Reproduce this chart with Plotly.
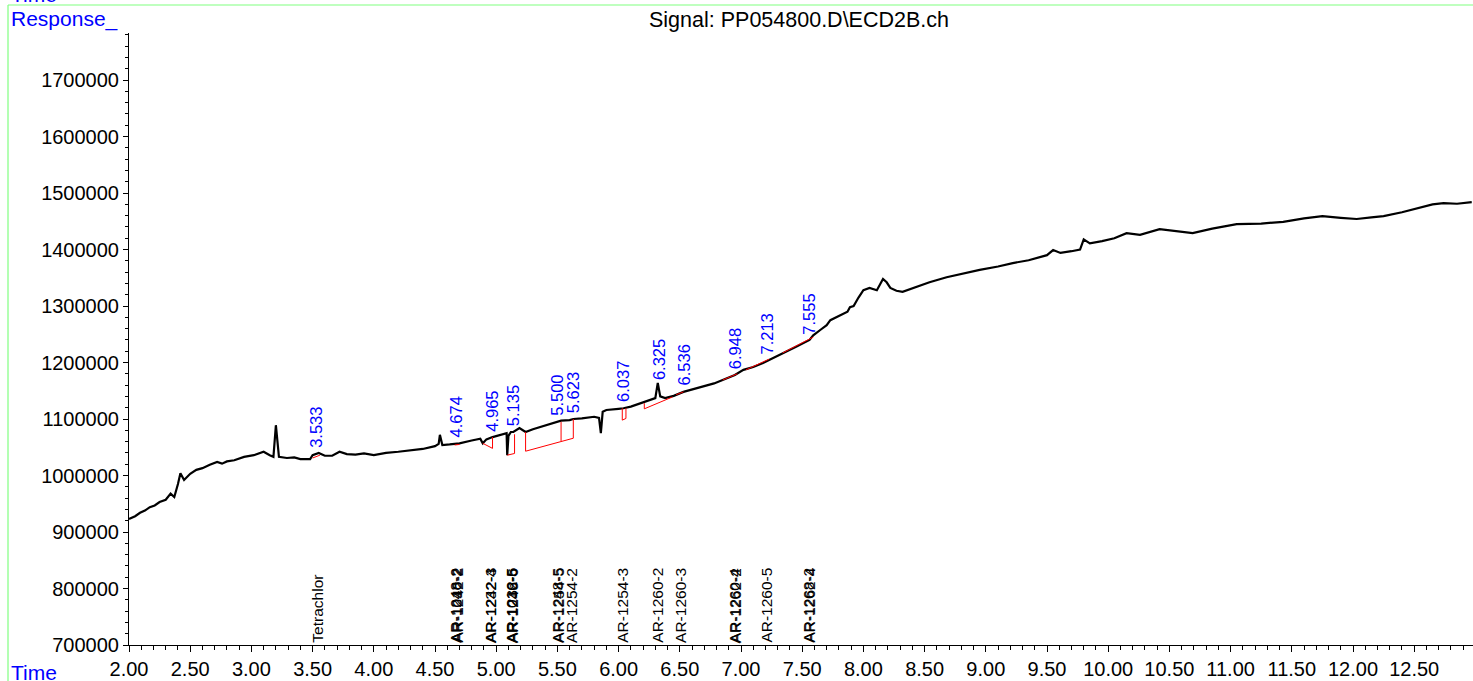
import numpy as np
import plotly.graph_objects as go

# ---------------- data ----------------
time_min = [2.00, 2.05, 2.09, 2.13, 2.17, 2.21, 2.25, 2.30, 2.34, 2.37, 2.40, 2.42, 2.45,
            2.50, 2.55, 2.60, 2.66, 2.72, 2.76, 2.80, 2.86, 2.94, 3.02, 3.10, 3.15, 3.18,
            3.20, 3.225, 3.29, 3.35, 3.40, 3.48, 3.50, 3.55, 3.60, 3.66, 3.72, 3.78, 3.85,
            3.92, 4.00, 4.10, 4.20, 4.30, 4.40, 4.50, 4.53, 4.54, 4.56, 4.62, 4.70, 4.80,
            4.87, 4.89, 4.92, 4.97, 5.03, 5.07, 5.085, 5.09, 5.10, 5.12, 5.14, 5.19, 5.24,
            5.30, 5.40, 5.50, 5.53, 5.60, 5.63, 5.70, 5.80, 5.84, 5.855, 5.87, 5.90, 6.00,
            6.04, 6.10, 6.20, 6.28, 6.30, 6.32, 6.34, 6.38, 6.45, 6.53, 6.60, 6.69, 6.78,
            6.85, 6.95, 7.02, 7.10, 7.18, 7.26, 7.34, 7.45, 7.56, 7.59, 7.65, 7.70, 7.73,
            7.80, 7.87, 7.89, 7.92, 7.96, 8.00, 8.05, 8.11, 8.16, 8.19, 8.22, 8.27, 8.32,
            8.41, 8.54, 8.68, 8.80, 8.95, 9.10, 9.22, 9.35, 9.44, 9.50, 9.55, 9.61, 9.70,
            9.77, 9.80, 9.85, 9.95, 10.05, 10.15, 10.26, 10.42, 10.55, 10.69, 10.85, 11.05,
            11.25, 11.43, 11.60, 11.75, 11.90, 12.03, 12.15, 12.25, 12.40, 12.52, 12.65,
            12.74, 12.85, 12.97]
response = [923000, 928000, 934000, 938000, 944000, 947000, 953000, 957000, 968000, 962000,
            985000, 1004000, 992000, 1003000, 1010000, 1013000, 1019000, 1024000, 1021000,
            1025000, 1027000, 1033000, 1036000, 1042000, 1036000, 1033000,
            1089000, 1033000, 1031000, 1032000, 1029000, 1029000, 1036000, 1040000, 1035000,
            1035000, 1042000, 1038000, 1037000,
            1039000, 1036000, 1040000, 1042000, 1044000, 1047000, 1052000, 1056000, 1072000,
            1054000, 1055000, 1057000, 1062000,
            1065000, 1057000, 1064000, 1068000, 1071000, 1074000, 1075000, 1036000, 1070000,
            1077000, 1077000, 1084000, 1077000,
            1082000, 1088000, 1095000, 1097000, 1098000, 1100000, 1101000, 1104000, 1102000,
            1075000, 1113000, 1116000, 1118000,
            1119000, 1122000, 1130000, 1135000, 1137000, 1164000, 1140000, 1137000, 1141000,
            1148000, 1152000, 1157000, 1163000,
            1169000, 1178000, 1187000, 1192000, 1199000, 1208000, 1217000, 1228000, 1240000,
            1248000, 1258000, 1266000, 1275000,
            1283000, 1290000, 1298000, 1300000, 1315000, 1328000, 1332000, 1328000, 1348000,
            1342000, 1332000, 1327000, 1325000,
            1332000, 1342000, 1351000, 1357000, 1364000, 1370000, 1376000, 1381000, 1387000,
            1390000, 1399000, 1394000, 1397000,
            1400000, 1418000, 1411000, 1415000, 1420000, 1429000, 1426000, 1436000, 1432000,
            1429000, 1437000, 1445000,
            1446000, 1449000, 1455000, 1459000, 1456000, 1454000, 1457000, 1459000, 1466000,
            1473000, 1480000,
            1482000, 1481000, 1484000]

# integration baselines (red), segments separated by None
base_t = [3.50, 3.56, None,
          4.66, 4.70, None,
          4.89, 4.97, 4.97, None,
          5.09, 5.15, 5.15, None,
          5.24, 5.24, 5.63, 5.63, None,
          5.53, 5.53, None,
          6.03, 6.03, 6.06, 6.06, None,
          6.21, 6.21, 6.44, None,
          6.47, 6.53, None,
          6.85, 6.97, None,
          7.04, 7.23, None,
          7.34, 7.59]
base_r = [1031000, 1036000, None,
          1054000, 1055000, None,
          1057000, 1048000, 1068000, None,
          1036000, 1039000, 1073000, None,
          1077000, 1043000, 1066000, 1100000, None,
          1095000, 1061000, None,
          1119000, 1098000, 1101000, 1119000, None,
          1128000, 1118000, 1139000, None,
          1143000, 1148000, None,
          1169000, 1180000, None,
          1187000, 1206000, None,
          1217000, 1245000]

peak_rt = [3.533, 4.674, 4.965, 5.135, 5.500, 5.623, 6.037, 6.325, 6.536, 6.948, 7.213, 7.555]
peak_text = ["3.533", "4.674", "4.965", "5.135", "5.500", "5.623", "6.037", "6.325",
             "6.536", "6.948", "7.213", "7.555"]

compound_rt = [3.533,
               4.674, 4.680, 4.668,
               4.950, 4.956,
               5.128, 5.134, 5.122,
               5.500, 5.506,
               5.615, 6.030, 6.315, 6.505,
               6.950, 6.956,
               7.205,
               7.550, 7.556]
compound_name = ["Tetrachlor",
                 "AR-1016-2", "AR-1242-2", "AR-1248-2",
                 "AR-1242-3", "AR-1232-4",
                 "AR-1016-5", "AR-1248-6", "AR-1232-5",
                 "AR-1248-5", "AR-1254-5",
                 "AR-1254-2", "AR-1254-3", "AR-1260-2", "AR-1260-3",
                 "AR-1260-4", "AR-1262-2",
                 "AR-1260-5",
                 "AR-1268-2", "AR-1262-4"]

x_ticks = [2.0 + 0.5 * i for i in range(22)]
x_tick_text = ["%.2f" % v for v in x_ticks]
y_ticks = [700000 + 100000 * i for i in range(11)]
y_tick_text = [str(v) for v in y_ticks]

# ---------------- figure ----------------
W, H = 1473, 681
L, R, T, B = 129, 0, 33, 36
FONT = "Liberation Sans, Arial, sans-serif"
BLUE = "#0000FF"
GREEN = "#80FF80"


def px_x(px):
    return (px - L) / (W - L - R)


def px_y(py):
    return (H - B - py) / (H - T - B)


fig = go.Figure()
fig.add_trace(go.Scatter(x=time_min, y=response, mode="lines",
                         line=dict(color="black", width=2.2), hoverinfo="skip"))
fig.add_trace(go.Scatter(x=base_t, y=base_r, mode="lines",
                         line=dict(color="#FF0000", width=1), connectgaps=False,
                         hoverinfo="skip"))

annotations = []
for rt, txt in zip(peak_rt, peak_text):
    yv = float(np.interp(rt, time_min, response))
    annotations.append(dict(x=rt, y=yv, xref="x", yref="y", text=txt, textangle=-90,
                            showarrow=False, xanchor="center", yanchor="bottom",
                            yshift=5, borderpad=0,
                            font=dict(family=FONT, size=16.5, color=BLUE)))
for rt, name in zip(compound_rt, compound_name):
    annotations.append(dict(x=rt, y=700000, xref="x", yref="y", text=name, textangle=-90,
                            showarrow=False, xanchor="center", yanchor="bottom",
                            yshift=1, borderpad=0,
                            font=dict(family=FONT, size=15.5, color="black")))

annotations += [
    dict(x=px_x(9), y=px_y(19), xref="paper", yref="paper", text="Response_",
         showarrow=False, xanchor="left", yanchor="middle",
         font=dict(family=FONT, size=21, color=BLUE)),
    dict(x=px_x(9), y=px_y(672), xref="paper", yref="paper", text="Time",
         showarrow=False, xanchor="left", yanchor="middle",
         font=dict(family=FONT, size=21, color=BLUE)),
    dict(x=px_x(9), y=px_y(-6), xref="paper", yref="paper", text="Time",
         showarrow=False, xanchor="left", yanchor="middle",
         font=dict(family=FONT, size=21, color=BLUE)),
    dict(x=px_x(799), y=px_y(20), xref="paper", yref="paper",
         text="Signal: PP054800.D\\ECD2B.ch",
         showarrow=False, xanchor="center", yanchor="middle",
         font=dict(family=FONT, size=21.5, color="black")),
]

shapes = [
    dict(type="line", xref="paper", yref="paper", x0=px_x(8), x1=px_x(W + 2),
         y0=px_y(5), y1=px_y(5), line=dict(color=GREEN, width=1.2)),
    dict(type="line", xref="paper", yref="paper", x0=px_x(8), x1=px_x(8),
         y0=px_y(5), y1=px_y(H + 2), line=dict(color=GREEN, width=1.2)),
]

fig.update_layout(
    width=W, height=H,
    margin=dict(l=L, r=R, t=T, b=B, pad=0),
    paper_bgcolor="white", plot_bgcolor="white",
    showlegend=False,
    annotations=annotations,
    shapes=shapes,
    font=dict(family=FONT, size=20, color="black"),
    xaxis=dict(range=[2.0, 2.0 + (W - L - R) / 122.4], tickvals=x_ticks,
               ticktext=x_tick_text, showgrid=False, zeroline=False,
               showline=True, linecolor="black", linewidth=1,
               ticks="outside", ticklen=6, tickcolor="black", tickwidth=1,
               minor=dict(dtick=0.1, tick0=2.0, ticks="outside", ticklen=4,
                          tickcolor="black", showgrid=False),
               tickfont=dict(family=FONT, size=20, color="black")),
    yaxis=dict(range=[700000, 700000 + (H - T - B) * 1770], tickvals=y_ticks,
               ticktext=y_tick_text, showgrid=False, zeroline=False,
               showline=True, linecolor="black", linewidth=1,
               ticks="outside", ticklen=5, tickcolor="black", tickwidth=1,
               minor=dict(dtick=20000, tick0=700000, ticks="outside", ticklen=3,
                          tickcolor="black", showgrid=False),
               tickfont=dict(family=FONT, size=20, color="black")),
)

fig.write_html("out.html",
               config={"displayModeBar": False},
               post_script="document.body.style.margin='0';"
                           "document.body.style.overflow='hidden';")
